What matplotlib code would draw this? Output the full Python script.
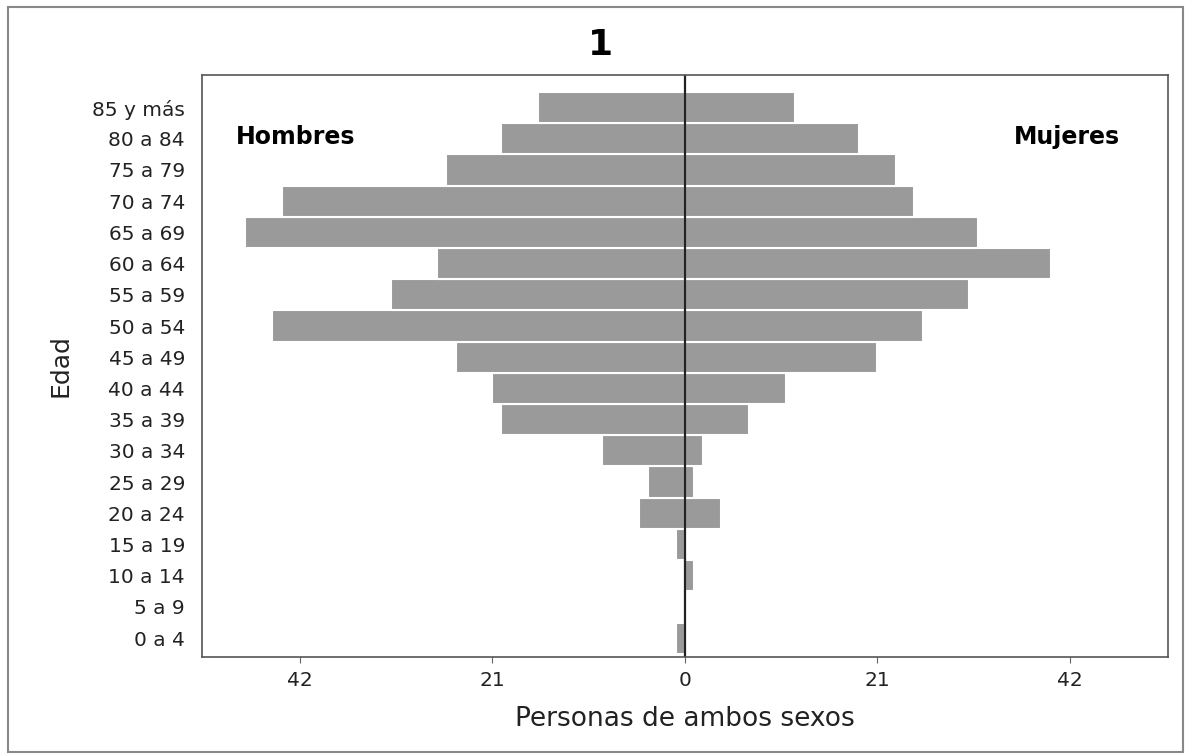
import matplotlib
matplotlib.use('Agg')
import matplotlib.pyplot as plt
from matplotlib.patches import Rectangle

# age groups, bottom to top
edades = ['0 a 4', '5 a 9', '10 a 14', '15 a 19', '20 a 24', '25 a 29', '30 a 34',
          '35 a 39', '40 a 44', '45 a 49', '50 a 54', '55 a 59', '60 a 64',
          '65 a 69', '70 a 74', '75 a 79', '80 a 84', '85 y más']
hombres = [1, 0, 0, 1, 5, 4, 9, 20, 21, 25, 45, 32, 27, 48, 44, 26, 20, 16]
mujeres = [0, 0, 1, 0, 4, 1, 2, 7, 11, 21, 26, 31, 40, 32, 25, 23, 19, 12]
xticks = [-42, -21, 0, 21, 42]
xticklabels = ['42', '21', '0', '21', '42']

plt.rcParams['font.family'] = ['DejaVu Sans']

fig = plt.figure(figsize=(11.94, 7.55), dpi=100)
ax = fig.add_axes([0.169, 0.130, 0.809, 0.771])

pos = range(len(edades))
ax.barh(pos, [-h for h in hombres], height=1.0, color='#9a9a9a', edgecolor='white', linewidth=1.5)
ax.barh(pos, mujeres, height=1.0, color='#9a9a9a', edgecolor='white', linewidth=1.5)
ax.axvline(0, color='#222222', linewidth=1.6)

ax.set_xlim(-52.7, 52.7)
ax.set_ylim(-0.6, 18.05)
ax.set_yticks(list(pos))
ax.set_yticklabels(edades, fontsize=14.5, color='#222222')
ax.tick_params(axis='y', length=0, pad=12)
ax.set_xticks(xticks)
ax.set_xticklabels(xticklabels, fontsize=14.5, color='#222222')
ax.tick_params(axis='x', length=4, color='#666666', pad=6)
for s in ax.spines.values():
    s.set_color('#555555')
    s.set_linewidth(1.2)

ax.set_xlabel('Personas de ambos sexos', fontsize=19, labelpad=12, color='#222222')
ax.set_ylabel('Edad', fontsize=18, labelpad=14, color='#222222')

ax.text(0.035, 0.893, 'Hombres', transform=ax.transAxes, fontsize=17, fontweight='bold', va='center')
ax.text(0.951, 0.893, 'Mujeres', transform=ax.transAxes, fontsize=17, fontweight='bold', va='center', ha='right')
fig.text(0.503, 0.94, '1', fontsize=26, fontweight='bold', ha='center', va='center')

# outer frame
fig.patches.append(Rectangle((0.007, 0.004), 0.984, 0.987, transform=fig.transFigure,
                             fill=False, edgecolor='#888888', linewidth=1.5))

plt.savefig('out.png', dpi=100)
